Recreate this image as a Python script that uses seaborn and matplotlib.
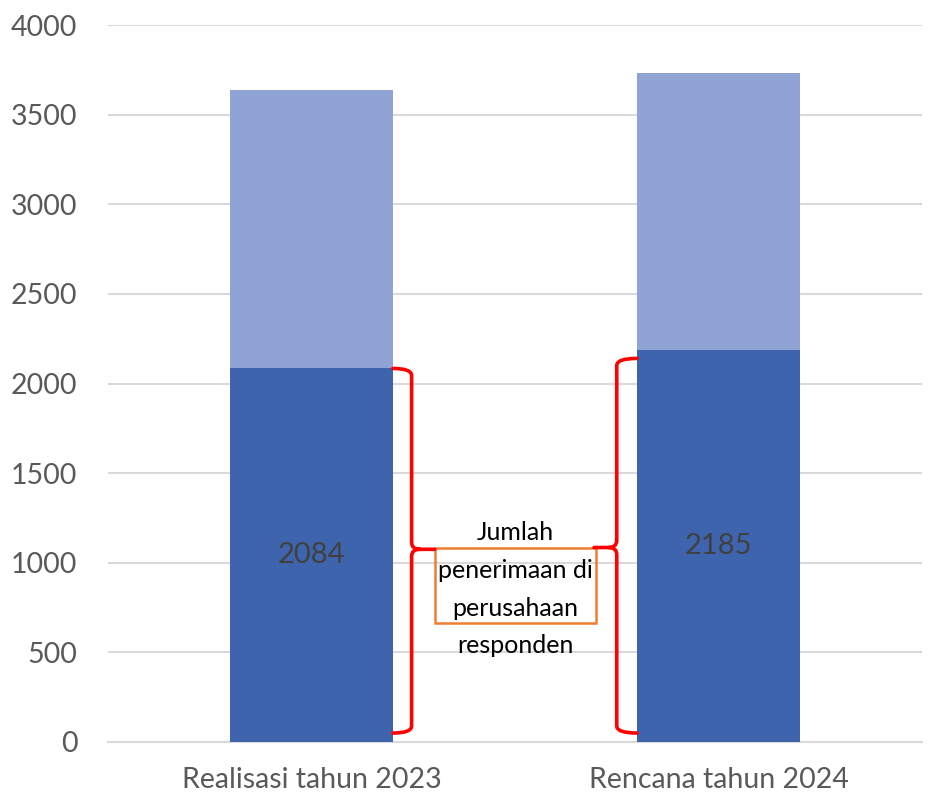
import matplotlib
matplotlib.use("Agg")
import matplotlib.pyplot as plt
from matplotlib.path import Path
from matplotlib.patches import PathPatch, Rectangle
import numpy as np
import pandas as pd
import seaborn as sns

categories = ["Realisasi tahun 2023", "Rencana tahun 2024"]
responden = [2084, 2185]   # penerimaan di perusahaan responden (lower, dark)
lainnya = [1552, 1550]     # remaining part of the bar (upper, light)
total = [a + b for a, b in zip(responden, lainnya)]
note = "Jumlah\npenerimaan di\nperusahaan\nresponden"

dark_blue = "#3e64ad"
light_blue = "#8fa3d4"

sns.set_style("white")
plt.rcParams["font.family"] = ["Lato", "DejaVu Sans"]

df = pd.DataFrame({"cat": categories, "dark": responden, "total": total})

fig = plt.figure(figsize=(9.32, 7.99), dpi=100)
ax = fig.add_axes([108 / 932, 57 / 799, 814 / 932, 717 / 799])

bw = 0.4
sns.barplot(data=df, x="cat", y="total", color=light_blue, saturation=1, width=bw,
            linewidth=0, ax=ax, zorder=2)
sns.barplot(data=df, x="cat", y="dark", color=dark_blue, saturation=1, width=bw,
            linewidth=0, ax=ax, zorder=3)

for i, v in enumerate(responden):
    ax.text(i, v / 2, str(v), ha="center", va="center", fontsize=21, color="#404040", zorder=5)

ax.set_ylim(0, 4000)
ax.set_xlim(-0.5, 1.5)
ax.set_yticks(np.arange(0, 4001, 500))
ax.yaxis.grid(True, color="#d9d9d9", linewidth=1.5, zorder=0)
ax.set_axisbelow(True)
for s in ["top", "right", "left"]:
    ax.spines[s].set_visible(False)
ax.spines["bottom"].set_color("#d9d9d9")
ax.spines["bottom"].set_linewidth(1.5)
ax.tick_params(axis="y", length=0, pad=22, labelsize=20.5, labelcolor="#595959")
ax.tick_params(axis="x", length=0, pad=18, labelsize=20.5, labelcolor="#595959")
ax.set_xlabel("")
ax.set_ylabel("")

# annotation box
bx0, bx1 = 0.303, 0.699
by0, by1 = 666, 1080
ax.add_patch(Rectangle((bx0, by0), bx1 - bx0, by1 - by0, fill=False,
                       edgecolor="#ed7d31", linewidth=1.8, zorder=4))
ax.text(0.5, 853, note, ha="center", va="center", fontsize=18, color="black",
        linespacing=1.78, zorder=5)


def brace(x_edge, x_spine, x_tip, y_top, y_bot, y_mid, rx, ry):
    d = 1 if x_spine > x_edge else -1
    verts = [
        (x_edge, y_top), (x_spine, y_top), (x_spine, y_top - ry),
        (x_spine, y_mid + ry), (x_spine, y_mid), (x_spine + d * rx, y_mid),
        (x_tip, y_mid),
        (x_spine + d * rx, y_mid), (x_spine, y_mid), (x_spine, y_mid - ry),
        (x_spine, y_bot + ry), (x_spine, y_bot), (x_edge, y_bot),
    ]
    codes = [
        Path.MOVETO, Path.CURVE3, Path.CURVE3,
        Path.LINETO, Path.CURVE3, Path.CURVE3,
        Path.LINETO,
        Path.MOVETO, Path.CURVE3, Path.CURVE3,
        Path.LINETO, Path.CURVE3, Path.CURVE3,
    ]
    ax.add_patch(PathPatch(Path(verts, codes), fill=False, edgecolor="red",
                           linewidth=2.6, capstyle="round", zorder=4))


brace(0 + bw / 2, 0 + bw / 2 + 0.046, bx0, responden[0], 50, 1075, 0.02, 40)
brace(1 - bw / 2, 1 - bw / 2 - 0.05, bx1 - 0.005, responden[1] - 45, 50, 1085, 0.02, 40)

fig.savefig("out.png", dpi=100)
